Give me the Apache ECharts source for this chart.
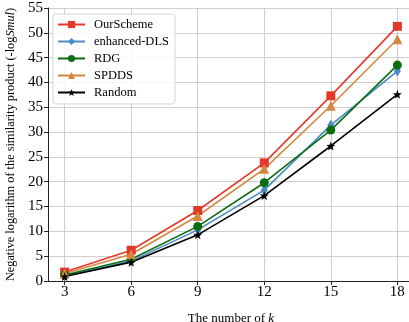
<!DOCTYPE html>
<html>
<head>
<meta charset="utf-8">
<script src="https://cdn.jsdelivr.net/npm/echarts@6/dist/echarts.min.js"></script>
<style>
  html, body { margin: 0; padding: 0; background: #fff; }
  #chart { width: 409px; height: 322px; }
</style>
</head>
<body>
<div id="chart"></div>
<script>
var kValues = [3, 6, 9, 12, 15, 18];
var ourScheme = [1.8, 6.2, 14.2, 23.8, 37.3, 51.3];
var enhancedDLS = [1.0, 4.0, 10.3, 18.3, 31.4, 42.3];
var rdg = [1.2, 4.4, 11.0, 19.8, 30.4, 43.5];
var spdds = [1.5, 5.4, 13.1, 22.6, 35.3, 48.7];
var randomK = [0.9, 3.8, 9.3, 17.2, 27.2, 37.6];

var serif = 'Liberation Serif';
var starPath = 'path://M0,-10 L2.35,-3.24 L9.51,-3.09 L3.8,1.24 L5.88,8.09 L0,4 L-5.88,8.09 L-3.8,1.24 L-9.51,-3.09 L-2.35,-3.24 Z';

function pairs(ys) {
	var out = [];
	for (var i = 0; i < kValues.length; i++) out.push([kValues[i], ys[i]]);
	return out;
}

function makeSeries(name, ys, color, symbol, size) {
	return {
		name: name,
		type: 'line',
		data: pairs(ys),
		symbol: symbol,
		symbolSize: size,
		showAllSymbol: true,
		lineStyle: { color: color, width: 1.6 },
		itemStyle: { color: color },
		emphasis: { disabled: true },
		animation: false
	};
}

var chart = echarts.init(document.getElementById('chart'));
var option = {
	backgroundColor: '#fff',
	textStyle: { fontFamily: serif },
	grid: { left: 48, right: -5, top: 8, bottom: 41, containLabel: false, outerBoundsMode: 'none', show: false },
	legend: {
		left: 53, top: 14,
		orient: 'vertical',
		itemWidth: 27, itemHeight: 9, itemGap: 2,
		padding: [3, 6, 4, 4],
		borderColor: '#d5d5d5', borderWidth: 1, borderRadius: 3,
		backgroundColor: 'rgba(255,255,255,0.85)',
		textStyle: { fontFamily: serif, fontSize: 12.5, color: '#000', lineHeight: 15, padding: [0, 0, 0, 4] },
		data: ['OurScheme', 'enhanced-DLS', 'RDG', 'SPDDS', 'Random']
	},
	xAxis: {
		type: 'value',
		min: 2.25, max: 18.75,
		name: 'The number of {i|k}',
		nameLocation: 'middle',
		nameGap: 31,
		nameTextStyle: {
			fontFamily: serif, fontSize: 13, color: '#000',
			rich: { i: { fontFamily: serif, fontStyle: 'italic', fontSize: 13, color: '#000' } }
		},
		axisLine: { onZero: false, lineStyle: { color: '#222', width: 1 } },
		axisTick: { show: true, length: 4, inside: false, customValues: kValues, lineStyle: { color: '#222' } },
		axisLabel: { customValues: kValues, fontFamily: serif, fontSize: 15, color: '#000', margin: 4 },
		splitLine: { show: true, lineStyle: { color: '#cfcfcf', width: 1 } }
	},
	yAxis: {
		type: 'value',
		min: 0, max: 55, interval: 5,
		name: 'Negative logarithm of the similarity product (-log{i|Smul})',
		nameLocation: 'middle',
		nameRotate: 90,
		nameGap: 27,
		nameTextStyle: {
			fontFamily: serif, fontSize: 12.3, color: '#000',
			rich: { i: { fontFamily: serif, fontStyle: 'italic', fontSize: 12.3, color: '#000' } }
		},
		axisLine: { show: true, lineStyle: { color: '#222', width: 1 } },
		axisTick: { show: true, length: 4, lineStyle: { color: '#222' } },
		axisLabel: { fontFamily: serif, fontSize: 15, color: '#000', margin: 5 },
		splitLine: { show: true, lineStyle: { color: '#cfcfcf', width: 1 } }
	},
	series: [
		makeSeries('OurScheme', ourScheme, '#e3392b', 'rect', 9),
		makeSeries('enhanced-DLS', enhancedDLS, '#4a8bc6', 'diamond', [7, 11]),
		makeSeries('RDG', rdg, '#0b6e12', 'circle', 9),
		makeSeries('SPDDS', spdds, '#d4873f', 'triangle', 10),
		makeSeries('Random', randomK, '#000000', starPath, 9)
	],
	graphic: [{
		type: 'line',
		shape: { x1: 48, y1: 8.5, x2: 409, y2: 8.5 },
		style: { stroke: '#222', lineWidth: 1 },
		silent: true
	}]
};
chart.setOption(option);
</script>
</body>
</html>
